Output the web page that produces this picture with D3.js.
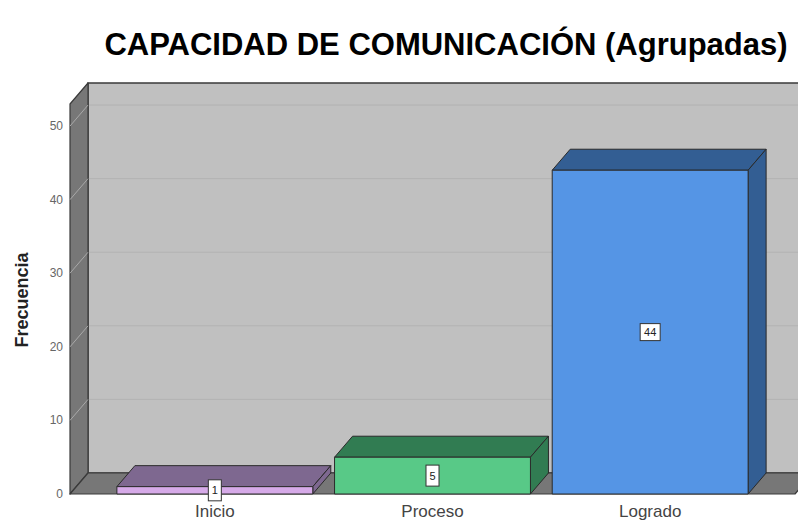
<!DOCTYPE html>
<html>
<head>
<meta charset="utf-8">
<script src="https://cdn.jsdelivr.net/npm/d3@7"></script>
<style>
  body { margin: 0; background: #fff; }
  text { font-family: "Liberation Sans", Arial, sans-serif; }
</style>
</head>
<body>
<div id="barchart"></div>
<script>
// chart data
const categories = ["Inicio", "Proceso", "Logrado"];
const frecuencias = [1, 5, 44];
const yTicks = [0, 10, 20, 30, 40, 50];
const frontColors = ["#d6aae8", "#58c987", "#5595e5"];
const darkColors = ["#7e6890", "#317c52", "#335e93"];

document.addEventListener("DOMContentLoaded", () => {
  var width = 798;
  var height = 523;
  // depth of the fake 3d effect
  var dx = 18;
  var dy = 21;

  var svg = d3
    .select("#barchart")
    .append("svg")
    .attr("width", width)
    .attr("height", height);

  var y = d3.scaleLinear().domain([0, 53]).range([494, 104]);
  var x = d3
    .scaleBand()
    .domain(categories)
    .range([106, 759])
    .paddingInner(0.1)
    .paddingOuter(0.05);

  var left = 70;
  var right = 795;
  var y0 = y(0);
  var yTop = y(53);

  // back wall
  svg
    .append("rect")
    .attr("x", left + dx)
    .attr("y", yTop - dy)
    .attr("width", right - left)
    .attr("height", y0 - yTop)
    .attr("fill", "#c0c0c0")
    .attr("stroke", "#3a3a3a")
    .attr("stroke-width", 1.5);

  // left wall and floor
  var wallPts = [[left, yTop], [left + dx, yTop - dy], [left + dx, y0 - dy], [left, y0]];
  var floorPts = [[left, y0], [left + dx, y0 - dy], [right + dx, y0 - dy], [right, y0]];
  svg
    .selectAll("polygon.wall")
    .data([wallPts, floorPts])
    .enter()
    .append("polygon")
    .attr("class", "wall")
    .attr("points", d => d.join(" "))
    .attr("fill", "#777777")
    .attr("stroke", "#3a3a3a")
    .attr("stroke-width", 1.2)
    .attr("stroke-linejoin", "round");

  // gridlines on the back wall, with the slanted bit on the side wall
  var grid = yTicks.filter(t => t > 0);
  svg
    .selectAll("line.grid")
    .data(grid)
    .enter()
    .append("line")
    .attr("class", "grid")
    .attr("x1", left + dx + 1)
    .attr("x2", right + dx)
    .attr("y1", d => y(d) - dy)
    .attr("y2", d => y(d) - dy)
    .attr("stroke", "#b2b2b2")
    .attr("stroke-width", 1);
  svg
    .selectAll("line.slant")
    .data(grid)
    .enter()
    .append("line")
    .attr("class", "slant")
    .attr("x1", left)
    .attr("x2", left + dx)
    .attr("y1", d => y(d))
    .attr("y2", d => y(d) - dy)
    .attr("stroke", "#a9a9a9")
    .attr("stroke-width", 1);

  // y axis labels
  svg
    .selectAll("text.tick")
    .data(yTicks)
    .enter()
    .append("text")
    .attr("class", "tick")
    .text(d => d)
    .attr("x", left - 7)
    .attr("y", d => y(d) + 4)
    .attr("text-anchor", "end")
    .attr("font-size", 12)
    .attr("fill", "#666");

  var bars = svg
    .selectAll("g.bar")
    .data(frecuencias)
    .enter()
    .append("g")
    .attr("class", "bar");

  // top of the bar
  bars
    .append("polygon")
    .attr("points", function(d, i) {
      var bx = x(categories[i]);
      var w = x.bandwidth();
      var yv = y(d);
      return [[bx, yv], [bx + dx, yv - dy], [bx + w + dx, yv - dy], [bx + w, yv]].join(" ");
    })
    .attr("fill", (d, i) => darkColors[i]);

  // right side
  bars
    .append("polygon")
    .attr("points", function(d, i) {
      var bx = x(categories[i]) + x.bandwidth();
      var yv = y(d);
      return [[bx, yv], [bx + dx, yv - dy], [bx + dx, y0 - dy], [bx, y0]].join(" ");
    })
    .attr("fill", (d, i) => darkColors[i]);

  // front face
  bars
    .append("rect")
    .attr("x", (d, i) => x(categories[i]))
    .attr("y", d => y(d))
    .attr("width", x.bandwidth())
    .attr("height", d => y0 - y(d))
    .attr("fill", (d, i) => frontColors[i]);

  bars
    .selectAll("polygon, rect")
    .attr("stroke", "#2a2a2a")
    .attr("stroke-width", 1)
    .attr("stroke-linejoin", "round");

  // value boxes in the middle of the front face
  bars.each(function(d, i) {
    var g = d3.select(this);
    var cx = x(categories[i]) + x.bandwidth() / 2;
    var cy = (y(d) + y0) / 2;
    var bw = String(d).length > 1 ? 20 : 13;
    var bh = String(d).length > 1 ? 17 : 21;
    g.append("rect")
      .attr("x", cx - bw / 2)
      .attr("y", cy - bh / 2)
      .attr("width", bw)
      .attr("height", bh)
      .attr("fill", "#fff")
      .attr("stroke", "#333")
      .attr("stroke-width", 1);
    g.append("text")
      .text(d)
      .attr("x", cx)
      .attr("y", cy + 4)
      .attr("text-anchor", "middle")
      .attr("font-size", 11)
      .attr("fill", "#222");
  });

  // category labels
  svg
    .selectAll("text.cat")
    .data(categories)
    .enter()
    .append("text")
    .attr("class", "cat")
    .text(d => d)
    .attr("x", d => x(d) + x.bandwidth() / 2)
    .attr("y", 517)
    .attr("text-anchor", "middle")
    .attr("font-size", 17)
    .attr("fill", "#444");

  // axis title
  svg
    .append("text")
    .text("Frecuencia")
    .attr("transform", "translate(28,300) rotate(-90)")
    .attr("text-anchor", "middle")
    .attr("font-size", 18)
    .attr("font-weight", "bold")
    .attr("fill", "#222");

  // chart title
  svg
    .append("text")
    .text("CAPACIDAD DE COMUNICACIÓN (Agrupadas)")
    .attr("x", 446)
    .attr("y", 55)
    .attr("text-anchor", "middle")
    .attr("font-size", 31)
    .attr("font-weight", "bold")
    .attr("fill", "#000");
});
</script>
</body>
</html>
